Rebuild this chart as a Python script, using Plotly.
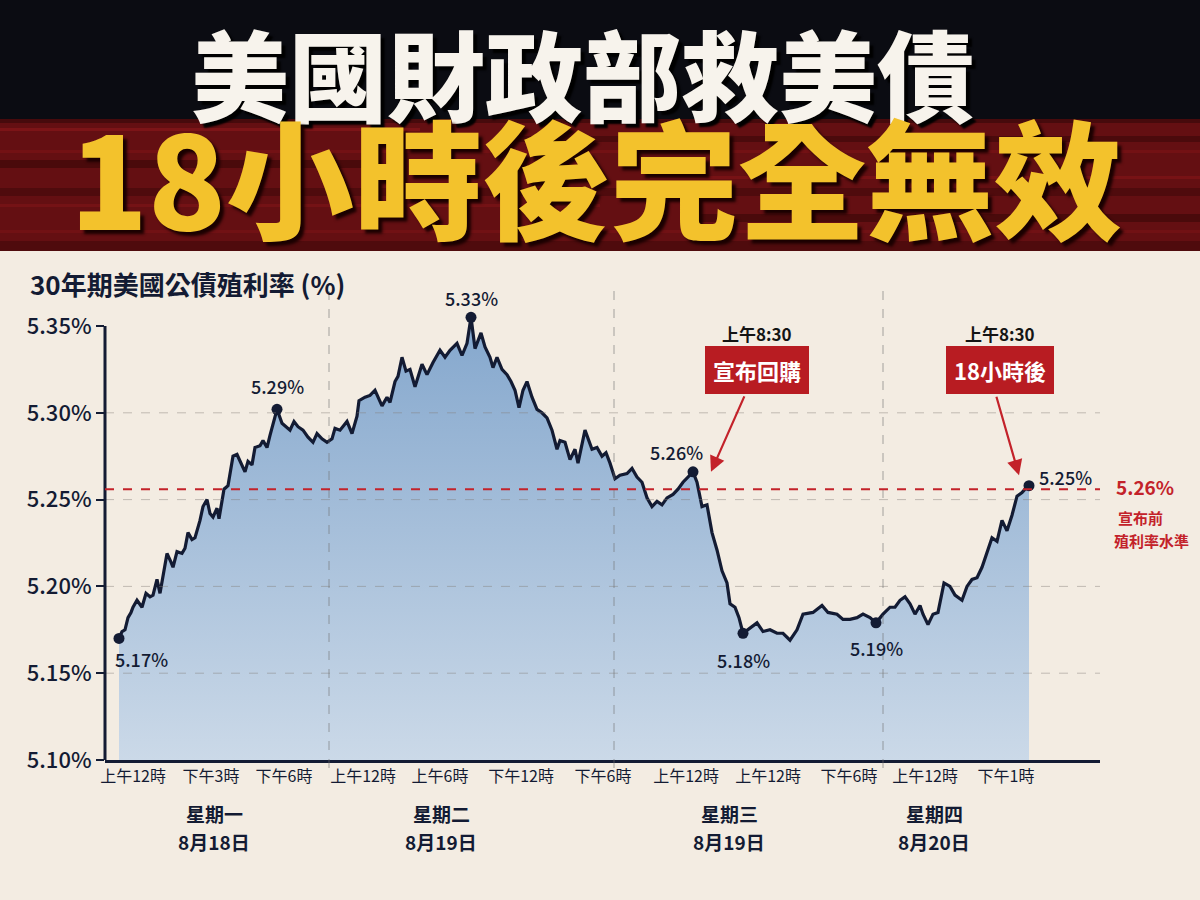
import plotly.graph_objects as go

W, H = 1200, 900
ML, MR, MT, MB = 105, 100, 289, 140
PW = W - ML - MR
PH = H - MT - MB


def fx(p):
    return (p - ML) / PW


def fy(p):
    return (H - MB - p) / PH


# ---------------- data ----------------
t_steps = [
    0, 3, 6, 9, 12, 14, 18, 23, 27, 31, 34, 38, 41, 48, 52, 54, 58, 63, 66, 69,
    73, 76, 81, 84, 88, 91, 94, 98, 100, 105, 109, 114, 118, 122, 126, 129, 133, 136, 141, 144,
    148, 151, 158, 163, 167, 171, 175, 179, 184, 189, 194, 198, 203, 208, 213, 216, 221, 228, 233, 238,
    240, 246, 251, 256, 263, 268, 271, 276, 279, 283, 287, 291, 296, 303, 308, 314, 321, 326, 331, 338,
    343, 348, 352, 356, 362, 366, 371, 374, 378, 383, 388, 392, 396, 400, 404, 408, 413, 418, 423, 428,
    433, 438, 441, 446, 451, 456, 459, 466, 473, 478, 483, 487, 491, 496, 501, 508, 513, 518, 523, 528,
    533, 538, 543, 548, 554, 559, 564, 569, 574, 578, 583, 588, 593, 598, 603, 608, 611, 616, 620, 624,
    629, 638, 644, 651, 658, 664, 671, 678, 684, 691, 694, 703, 709, 718, 724, 731, 738, 744, 751, 757,
    764, 771, 776, 781, 786, 791, 796, 801, 804, 809, 814, 819, 825, 831, 836, 843, 848, 853, 858, 863,
    868, 873, 878, 883, 888, 893, 898, 903, 906, 910,
]
yield_pct = [
    5.170, 5.174, 5.175, 5.182, 5.185, 5.188, 5.192, 5.188, 5.196, 5.194, 5.195, 5.204, 5.196, 5.219, 5.214, 5.211, 5.220, 5.219, 5.222, 5.231,
    5.227, 5.228, 5.238, 5.246, 5.250, 5.242, 5.240, 5.245, 5.239, 5.256, 5.258, 5.275, 5.276, 5.271, 5.266, 5.272, 5.270, 5.280, 5.281, 5.284,
    5.280, 5.287, 5.302, 5.294, 5.292, 5.290, 5.295, 5.292, 5.290, 5.286, 5.283, 5.288, 5.285, 5.283, 5.285, 5.291, 5.290, 5.295, 5.288, 5.298,
    5.307, 5.309, 5.310, 5.313, 5.304, 5.309, 5.306, 5.318, 5.321, 5.332, 5.324, 5.325, 5.315, 5.328, 5.322, 5.329, 5.336, 5.332, 5.336, 5.340,
    5.333, 5.340, 5.355, 5.337, 5.346, 5.338, 5.332, 5.326, 5.332, 5.325, 5.322, 5.318, 5.313, 5.303, 5.313, 5.318, 5.309, 5.302, 5.300, 5.297,
    5.290, 5.279, 5.284, 5.283, 5.273, 5.279, 5.271, 5.290, 5.279, 5.280, 5.275, 5.277, 5.271, 5.262, 5.264, 5.265, 5.268, 5.263, 5.260, 5.251,
    5.246, 5.249, 5.247, 5.251, 5.253, 5.256, 5.260, 5.263, 5.266, 5.260, 5.246, 5.247, 5.231, 5.221, 5.209, 5.202, 5.190, 5.188, 5.182, 5.173,
    5.175, 5.179, 5.174, 5.175, 5.173, 5.173, 5.169, 5.175, 5.184, 5.185, 5.185, 5.189, 5.185, 5.184, 5.181, 5.181, 5.182, 5.184, 5.182, 5.179,
    5.184, 5.188, 5.188, 5.192, 5.194, 5.190, 5.184, 5.189, 5.184, 5.178, 5.184, 5.185, 5.202, 5.200, 5.195, 5.192, 5.200, 5.204, 5.205, 5.211,
    5.219, 5.228, 5.226, 5.238, 5.232, 5.241, 5.252, 5.254, 5.256, 5.258,
]

highlight_steps = [0, 158, 352, 574, 624, 757, 910]
highlight_text = ["5.17%", "5.29%", "5.33%", "5.26%", "5.18%", "5.19%", "5.25%"]
label_offsets = [(22, -21), (0, 23), (0, 19), (-17, 20), (0, -27), (0, -25), (36, 9)]

x_tick_steps = [14, 92, 165, 244, 321, 402, 484, 567, 649, 730, 806, 887]
x_tick_labels = ["上午12時", "下午3時", "下午6時", "上午12時", "上午6時", "下午12時",
                 "下午6時", "上午12時", "上午12時", "下午6時", "上午12時", "下午1時"]
y_ticks = [5.10, 5.15, 5.20, 5.25, 5.30, 5.35]
y_tick_labels = ["5.10%", "5.15%", "5.20%", "5.25%", "5.30%", "5.35%"]
grid_levels = [5.15, 5.20, 5.25, 5.30]
day_breaks = [210, 495, 764]
day_names = ["星期一", "星期二", "星期三", "星期四"]
day_dates = ["8月18日", "8月19日", "8月19日", "8月20日"]
day_centers = [95, 322, 610, 815]
pre_announce_level = 5.256

# ---------------- styles ----------------
NAVY = "#131b33"
RED = "#c3222a"
BG = "#f3ece2"
FONT = "Noto Sans CJK TC"

fig = go.Figure()

fig.add_trace(go.Scatter(
    x=t_steps, y=yield_pct, mode="lines",
    line=dict(color=NAVY, width=3.2),
    fill="tozeroy",
    fillgradient=dict(type="vertical", start=5.10, stop=5.355,
                      colorscale=[[0, "#cbd9e8"], [1, "#84a7cd"]]),
    hoverinfo="skip", showlegend=False,
))

y_map = dict(zip(t_steps, yield_pct))
hy = [y_map[t] for t in highlight_steps]
fig.add_trace(go.Scatter(
    x=highlight_steps, y=hy, mode="markers",
    marker=dict(color=NAVY, size=11),
    hoverinfo="skip", showlegend=False, cliponaxis=False,
))

shapes = []
# header background
shapes.append(dict(type="rect", xref="paper", yref="paper", x0=fx(0), x1=fx(W), y0=fy(0), y1=fy(121),
                   fillcolor="#0b0c12", line_width=0, layer="below"))
shapes.append(dict(type="rect", xref="paper", yref="paper", x0=fx(0), x1=fx(W), y0=fy(119), y1=fy(251),
                   fillcolor="#640f12", line_width=0, layer="below"))
# grunge streaks in the red band
for (a, b, c0, c1, col, op) in [
    (119, 123, 0, 1200, "#2a0506", 0.5), (128, 131, 0, 420, "#9a1a1e", 0.45),
    (136, 142, 500, 1200, "#2c0506", 0.45), (150, 153, 0, 1200, "#8e181b", 0.35),
    (160, 168, 0, 380, "#2a0405", 0.45), (176, 179, 650, 1200, "#9a1a1e", 0.35),
    (188, 196, 0, 1200, "#300607", 0.4), (204, 207, 0, 600, "#931a1d", 0.35),
    (214, 222, 700, 1200, "#2a0405", 0.45), (230, 233, 0, 1200, "#8a171a", 0.35),
    (241, 251, 0, 1200, "#3a0708", 0.5),
]:
    shapes.append(dict(type="rect", xref="paper", yref="paper", x0=fx(c0), x1=fx(c1), y0=fy(b), y1=fy(a),
                       fillcolor=col, opacity=op, line_width=0, layer="below"))

# gridlines
for g in grid_levels:
    shapes.append(dict(type="line", xref="paper", x0=0, x1=1, yref="y", y0=g, y1=g,
                       line=dict(color="rgba(130,125,120,0.45)", width=1, dash="dash"), layer="above"))
for d in day_breaks:
    shapes.append(dict(type="line", xref="x", x0=d, x1=d, yref="paper", y0=-0.017, y1=1.01,
                       line=dict(color="rgba(110,110,110,0.6)", width=1, dash="dash"), layer="above"))
# y axis line
shapes.append(dict(type="line", xref="paper", x0=0, x1=0, yref="y", y0=5.10, y1=5.35,
                   line=dict(color=NAVY, width=3)))
# pre-announcement level
shapes.append(dict(type="line", xref="paper", x0=0, x1=1, yref="y", y0=pre_announce_level, y1=pre_announce_level,
                   line=dict(color=RED, width=2, dash="dash"), layer="above"))

ann = []


def txt(text, x, y, size, color, weight="bold", xanchor="center", **kw):
    return dict(text=text, xref="paper", yref="paper", x=fx(x), y=fy(y), showarrow=False,
                xanchor=xanchor, yanchor="middle",
                font=dict(family=FONT, size=size, color=color, weight=weight), **kw)


# titles
ann.append(dict(text="美國財政部救美債", xref="paper", yref="paper", x=fx(583), y=fy(71),
                showarrow=False, xanchor="center", yanchor="middle",
                font=dict(family=FONT, size=98, color="#f7f3ec", weight=900,
                          shadow="4px 4px 2px #000000")))
ann.append(dict(text="18小時後完全無效", xref="paper", yref="paper", x=fx(596), y=fy(174),
                showarrow=False, xanchor="center", yanchor="middle",
                font=dict(family=FONT, size=128, color="#f3c22c", weight=900,
                          shadow="4px 4px 3px #1a0000")))
ann.append(txt("30年期美國公債殖利率 (%)", 28, 283, 26, NAVY, xanchor="left"))

# data labels
for t, v, s, (dx, dy) in zip(highlight_steps, hy, highlight_text, label_offsets):
    ann.append(dict(text=s, x=t, y=v, xref="x", yref="y", showarrow=False,
                    xshift=dx, yshift=dy, xanchor="center", yanchor="middle",
                    font=dict(family=FONT, size=18, color=NAVY, weight=500)))

# callouts
for cx, label in [(757, "宣布回購"), (1000, "18小時後")]:
    ann.append(txt("上午8:30", cx, 333, 17, "#141414"))
    ann.append(txt(label, cx, 370, 22, "white", bgcolor="#b81c22", bordercolor="#b81c22",
                   borderwidth=1, borderpad=7))
ann.append(dict(text="", x=592, y=5.266, xref="x", yref="y", showarrow=True, ax=34, ay=-77,
                arrowhead=2, arrowsize=1.4, arrowwidth=2.2, arrowcolor=RED))
ann.append(dict(text="", x=900, y=5.264, xref="x", yref="y", showarrow=True, ax=-23, ay=-80,
                arrowhead=2, arrowsize=1.4, arrowwidth=2.2, arrowcolor=RED))

# right side reference label
ann.append(txt("5.26%", 1114, 486, 19, RED, xanchor="left"))
ann.append(txt("宣布前", 1116, 517, 15, RED, xanchor="left"))
ann.append(txt("殖利率水準", 1112, 540, 15, RED, xanchor="left"))

# day labels
for c, n, d in zip(day_centers, day_names, day_dates):
    ann.append(dict(text=n, x=c, xref="x", yref="paper", y=fy(813), yanchor="middle", showarrow=False,
                    font=dict(family=FONT, size=19, color=NAVY, weight="bold")))
    ann.append(dict(text=d, x=c, xref="x", yref="paper", y=fy(841), yanchor="middle", showarrow=False,
                    font=dict(family=FONT, size=19, color=NAVY, weight="bold")))

fig.update_layout(
    width=W, height=H,
    margin=dict(l=ML, r=MR, t=MT, b=MB, pad=0),
    paper_bgcolor=BG, plot_bgcolor=BG,
    shapes=shapes, annotations=ann,
    font=dict(family=FONT, color=NAVY),
    xaxis=dict(range=[-14, 981], showgrid=False, zeroline=False, showline=True,
               linecolor=NAVY, linewidth=3, tickmode="array", tickvals=x_tick_steps,
               ticktext=x_tick_labels, ticks="", tickfont=dict(size=16, color=NAVY)),
    yaxis=dict(range=[5.10, 5.10 + PH / 1736], showgrid=False, zeroline=False, showline=False,
               tickmode="array", tickvals=y_ticks, ticktext=y_tick_labels,
               ticks="outside", ticklen=8, tickwidth=2, tickcolor=NAVY,
               tickfont=dict(size=22, color=NAVY, weight=500)),
    showlegend=False,
)

fig.write_html(
    "out.html",
    config={"displayModeBar": False},
    post_script="document.body.style.margin='0';document.body.style.background='" + BG + "';",
)
